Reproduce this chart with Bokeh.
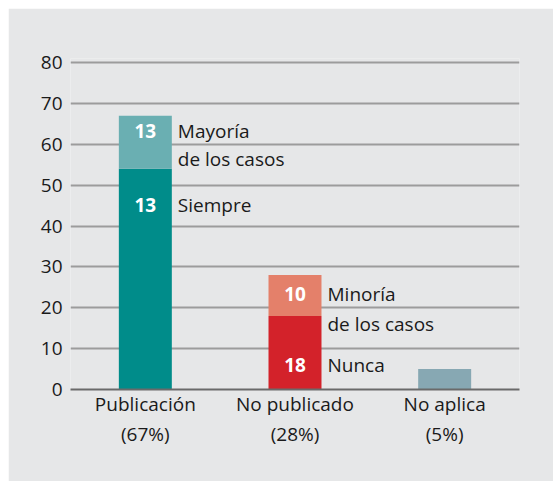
from bokeh.plotting import figure
from bokeh.models import ColumnDataSource, FactorRange, Range1d, FixedTicker, CategoricalAxis, Spacer
from bokeh.layouts import column, row
from bokeh.transform import dodge
from bokeh.core.properties import value
from bokeh.embed import file_html
from bokeh.resources import INLINE

# ---- data ----
categories = ["Publicación", "No publicado", "No aplica"]
percent_labels = ["(67%)", "(28%)", "(5%)"]
lower_values = [54, 18, 5]
upper_values = [13, 10, 0]
lower_colors = ["#008C8A", "#D3222A", "#87A8B3"]
upper_colors = ["#6AAFB2", "#E4806A", "#87A8B3"]

# value labels inside the bars
num_cats = ["Publicación", "Publicación", "No publicado", "No publicado"]
num_texts = ["13", "13", "10", "18"]
num_y = [63.3, 45.2, 23.4, 6.1]

# descriptive labels beside the bars
side_cats = ["Publicación", "Publicación", "Publicación", "No publicado", "No publicado", "No publicado"]
side_texts = ["Mayoría", "de los casos", "Siempre", "Minoría", "de los casos", "Nunca"]
side_y = [63.3, 56.4, 45.2, 23.4, 16.1, 6.1]

y_ticks = [0, 10, 20, 30, 40, 50, 60, 70, 80]

FONT = "Open Sans"
BG = "#E6E7E8"
TXT = "#1a1a1a"
BAR_W = 0.354

p = figure(x_range=FactorRange(*categories), y_range=Range1d(0, 81),
           width=545, height=473, output_backend="svg", toolbar_location=None,
           min_border_left=62, min_border_right=34, min_border_top=50, min_border_bottom=92,
           background_fill_color=BG, border_fill_color=BG, outline_line_color=None)
p.extra_x_ranges = {"pct": FactorRange(*percent_labels)}

src = ColumnDataSource(dict(
    cat=categories,
    low=lower_values,
    top=[a + b for a, b in zip(lower_values, upper_values)],
    lc=lower_colors,
    uc=upper_colors,
))
p.vbar(x="cat", bottom=0, top="low", width=BAR_W, fill_color="lc", line_color=None, source=src)
p.vbar(x="cat", bottom="low", top="top", width=BAR_W, fill_color="uc", line_color=None, source=src)

nsrc = ColumnDataSource(dict(cat=num_cats, y=num_y, t=num_texts))
p.text(x="cat", y="y", text="t", source=nsrc, text_font=value(FONT), text_font_style="bold",
       text_font_size="19px", text_color="white", text_align="center", text_baseline="middle")

ssrc = ColumnDataSource(dict(cat=side_cats, y=side_y, t=side_texts))
p.text(x=dodge("cat", BAR_W / 2, range=p.x_range), y="y", text="t", source=ssrc, x_offset=6,
       text_font=value(FONT), text_font_size="19px", text_color=TXT,
       text_align="left", text_baseline="middle")

# grid
p.xgrid.visible = False
p.ygrid.ticker = FixedTicker(ticks=y_ticks[1:])
p.ygrid.grid_line_color = "#9c9c9c"
p.ygrid.grid_line_width = 2

# y axis
p.yaxis.ticker = FixedTicker(ticks=y_ticks)
p.yaxis.axis_line_color = None
p.yaxis.major_tick_line_color = None
p.yaxis.minor_tick_line_color = None
p.yaxis.major_tick_out = 0
p.yaxis.major_label_standoff = 8
p.yaxis.major_label_text_font = FONT
p.yaxis.major_label_text_font_size = "19px"
p.yaxis.major_label_text_color = TXT

# x axis (names)
xa = p.xaxis[0]
xa.axis_line_color = "#6a6a6a"
xa.axis_line_width = 2
xa.major_tick_line_color = None
xa.major_tick_out = 0
xa.major_label_standoff = 1
xa.major_label_text_font = FONT
xa.major_label_text_font_size = "19px"
xa.major_label_text_color = TXT

# second x axis (percentages)
xa2 = CategoricalAxis(x_range_name="pct")
xa2.axis_line_color = None
xa2.major_tick_line_color = None
xa2.major_tick_out = 0
xa2.major_label_standoff = 1
xa2.major_label_text_font = FONT
xa2.major_label_text_font_size = "19px"
xa2.major_label_text_color = TXT
p.add_layout(xa2, "below")

layout = column(Spacer(width=553, height=8), row(Spacer(width=8, height=473), p))

open("out.html", "w").write(file_html(layout, INLINE))
